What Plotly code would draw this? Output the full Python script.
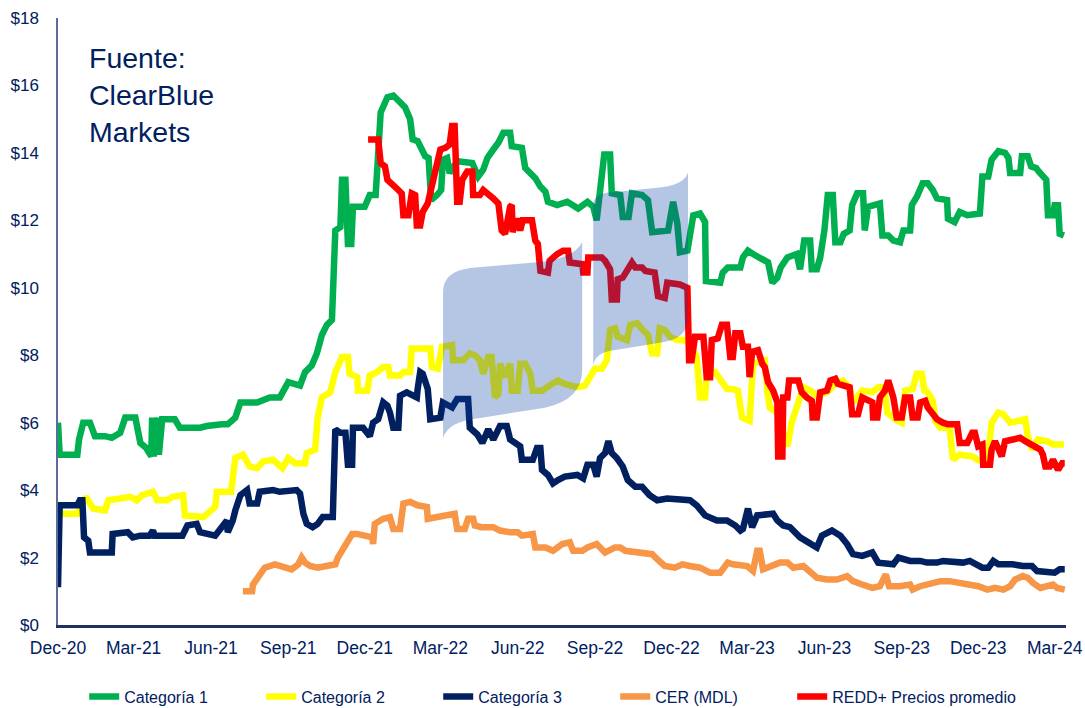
import pandas as pd
import plotly.graph_objects as go

# x values: elapsed days since 2020-12-01 (weekly-ish price series)
START = "2020-12-01"

cat1_days = [0, 2, 23, 25, 30, 38, 44, 56, 64, 74, 80, 92, 98, 105, 111, 112, 114, 118, 120, 124, 139, 145, 169, 177,
             195, 202, 211, 217, 237, 252, 264, 274, 288, 294, 302, 308, 314, 320, 326, 330, 336, 338, 342, 345, 349,
             351, 365, 371, 378, 381, 384, 392, 399, 407, 413, 419, 422, 428, 433, 437, 441, 444, 451, 456, 458, 463,
             466, 475, 493, 500, 506, 511, 518, 524, 530, 538, 540, 552, 556, 562, 568, 574, 580, 583, 594, 606, 619,
             630, 637, 641, 645, 650, 657, 659, 669, 672, 679, 683, 695, 702, 707, 720, 726, 732, 737, 740, 749, 756,
             764, 770, 771, 788, 791, 797, 812, 815, 821, 827, 833, 845, 850, 856, 860, 868, 879, 883, 888, 895, 897,
             903, 907, 912, 916, 922, 925, 931, 935, 942, 945, 951, 958, 960, 964, 978, 981, 988, 994, 1002, 1006,
             1014, 1016, 1022, 1029, 1035, 1041, 1046, 1058, 1059, 1067, 1073, 1082, 1097, 1100, 1107, 1111, 1119,
             1127, 1131, 1133, 1145, 1147, 1154, 1158, 1164, 1167, 1172, 1176, 1178, 1184, 1186, 1190, 1192, 1197]
cat1_vals = [6.0, 5.05, 5.05, 5.5, 6.0, 6.0, 5.6, 5.6, 5.55, 5.7, 6.15, 6.15, 5.4, 5.25, 5.0, 6.15, 5.0, 6.15, 5.05, 6.1,
             6.1, 5.85, 5.85, 5.9, 5.95, 5.95, 6.15, 6.6, 6.6, 6.75, 6.75, 7.2, 7.1, 7.5, 7.7, 8.05, 8.6, 8.9, 9.05,
             11.7, 11.8, 13.2, 13.2, 11.3, 11.3, 12.4, 12.4, 12.75, 12.75, 14.4, 15.2, 15.65, 15.7, 15.5, 15.35, 15.0,
             14.4, 14.35, 14.15, 13.9, 13.85, 12.6, 12.75, 12.9, 13.8, 13.85, 13.4, 13.75, 13.7, 13.3, 13.5, 13.85,
             14.1, 14.3, 14.6, 14.6, 14.2, 14.15, 13.55, 13.4, 13.25, 13.0, 12.85, 12.55, 12.45, 12.55, 12.35, 12.55,
             12.4, 12.0, 12.9, 13.95, 13.95, 12.8, 12.75, 12.1, 12.1, 12.8, 12.75, 12.6, 11.65, 11.7, 11.7, 12.55,
             11.9, 11.05, 11.1, 12.15, 12.2, 11.95, 10.2, 10.15, 10.45, 10.6, 10.6, 10.9, 11.1, 11.0, 10.9, 10.75,
             10.15, 10.3, 10.6, 10.9, 11.0, 10.55, 11.4, 11.4, 10.55, 10.55, 10.9, 11.7, 12.75, 12.75, 11.35, 11.35,
             11.6, 11.7, 12.45, 12.8, 12.8, 11.7, 12.4, 12.5, 11.55, 11.55, 11.4, 11.35, 11.7, 11.7, 12.45, 12.7,
             13.1, 13.1, 12.9, 12.65, 12.6, 12.05, 11.95, 12.25, 12.15, 12.2, 13.3, 13.3, 13.8, 14.05, 14.0, 13.85,
             13.4, 13.4, 13.9, 13.9, 13.6, 13.55, 13.45, 13.3, 13.2, 12.15, 12.15, 12.45, 12.45, 11.6, 11.55]

cat2_days = [0, 23, 33, 42, 56, 60, 74, 86, 94, 100, 113, 118, 130, 136, 149, 151, 173, 179, 187, 189, 206, 211, 220,
             228, 237, 244, 256, 267, 274, 282, 294, 296, 306, 309, 314, 324, 330, 338, 345, 347, 356, 357, 368, 371,
             380, 387, 393, 395, 407, 411, 419, 421, 443, 445, 452, 457, 469, 470, 482, 490, 496, 502, 506, 512, 516,
             520, 524, 526, 532, 538, 540, 547, 550, 556, 562, 565, 576, 585, 595, 603, 618, 627, 633, 639, 647, 653,
             657, 663, 666, 677, 681, 689, 696, 702, 707, 713, 716, 722, 728, 737, 744, 752, 760, 764, 770, 772, 782,
             788, 796, 802, 809, 814, 823, 827, 841, 844, 847, 856, 863, 868, 873, 877, 883, 887, 895, 903, 915, 925,
             934, 942, 946, 957, 969, 976, 983, 987, 996, 1004, 1008, 1017, 1022, 1028, 1031, 1035, 1041, 1044, 1050,
             1061, 1065, 1073, 1088, 1094, 1106, 1111, 1119, 1125, 1133, 1151, 1154, 1159, 1166, 1177, 1184, 1197]
cat2_vals = [3.3, 3.3, 3.8, 3.45, 3.4, 3.7, 3.75, 3.8, 3.7, 3.85, 3.95, 3.7, 3.7, 3.8, 3.85, 3.25, 3.2, 3.35, 3.5,
             3.95, 3.95, 4.95, 5.05, 4.7, 4.65, 4.85, 4.9, 4.65, 4.95, 4.8, 4.8, 5.1, 5.2, 6.15, 6.75, 6.9, 7.5, 7.95,
             7.95, 7.45, 7.35, 6.95, 6.95, 7.4, 7.5, 7.65, 7.65, 7.4, 7.4, 7.5, 7.5, 8.2, 8.2, 7.65, 7.6, 8.25, 8.3,
             7.85, 7.85, 8.05, 8.0, 7.85, 7.45, 7.95, 7.95, 6.75, 6.85, 7.75, 7.35, 7.75, 6.95, 6.95, 7.75, 7.75,
             7.45, 6.95, 6.95, 7.1, 7.25, 7.15, 7.05, 7.1, 7.35, 7.6, 7.6, 7.85, 8.75, 8.8, 8.55, 8.45, 8.9, 8.95,
             8.75, 8.6, 8.05, 8.05, 8.8, 8.75, 8.55, 8.45, 8.45, 8.35, 7.95, 6.75, 6.75, 7.45, 7.5, 7.25, 7.0, 7.0,
             6.95, 6.15, 6.05, 7.75, 7.85, 6.95, 6.45, 6.3, 5.7, 5.3, 6.0, 6.3, 6.65, 7.05, 6.95, 6.8, 6.9, 7.15,
             7.25, 7.05, 6.6, 6.95, 6.9, 7.05, 7.05, 6.3, 6.1, 6.0, 6.95, 7.0, 7.45, 7.45, 6.95, 6.9, 6.65, 6.05,
             5.85, 5.85, 4.9, 5.05, 5.0, 4.9, 4.8, 6.0, 6.3, 6.25, 6.0, 6.1, 5.6, 5.2, 5.5, 5.45, 5.35, 5.35]

cat3_days = [0, 2, 23, 26, 29, 31, 36, 38, 64, 65, 83, 89, 98, 109, 113, 115, 148, 154, 165, 169, 187, 195, 201, 202,
             208, 211, 217, 225, 228, 237, 240, 256, 264, 284, 288, 292, 296, 303, 309, 315, 327, 330, 336, 342, 345,
             350, 351, 363, 368, 371, 375, 381, 387, 392, 395, 399, 405, 407, 415, 427, 428, 431, 434, 440, 443, 455,
             458, 469, 475, 488, 490, 499, 505, 512, 518, 526, 534, 538, 550, 552, 565, 570, 574, 576, 583, 589, 595,
             603, 618, 625, 630, 637, 641, 645, 651, 655, 659, 665, 672, 678, 687, 695, 704, 713, 725, 752, 760, 770,
             784, 796, 806, 812, 815, 821, 826, 832, 851, 856, 863, 871, 883, 895, 903, 909, 921, 931, 939, 946, 957,
             969, 976, 994, 1000, 1014, 1026, 1034, 1046, 1053, 1077, 1085, 1094, 1100, 1107, 1113, 1119, 1136, 1148,
             1159, 1165, 1186, 1192, 1198]
cat3_vals = [1.12, 3.55, 3.55, 3.7, 3.7, 2.6, 2.5, 2.15, 2.15, 2.7, 2.75, 2.6, 2.65, 2.65, 2.8, 2.65, 2.65, 2.95, 3.0,
             2.75, 2.65, 2.9, 3.1, 2.75, 3.1, 3.4, 3.85, 4.0, 3.6, 3.6, 3.95, 4.0, 3.95, 4.0, 3.9, 3.3, 3.0, 2.9, 3.0,
             3.2, 3.2, 5.8, 5.7, 5.7, 4.75, 4.75, 5.85, 5.85, 5.65, 5.6, 6.0, 6.1, 6.6, 6.5, 6.3, 5.85, 5.85, 6.8,
             6.9, 6.75, 7.0, 7.5, 7.45, 7.0, 6.1, 6.15, 6.6, 6.45, 6.7, 6.7, 5.85, 5.65, 5.4, 5.8, 5.5, 5.9, 5.9, 5.5,
             5.3, 4.9, 4.9, 5.25, 5.25, 4.6, 4.45, 4.2, 4.3, 4.4, 4.45, 4.35, 4.75, 4.75, 4.4, 4.95, 5.1, 5.45, 5.1,
             4.95, 4.7, 4.3, 4.1, 4.1, 3.85, 3.7, 3.75, 3.7, 3.55, 3.25, 3.1, 3.1, 2.95, 2.8, 2.85, 3.45, 2.9, 3.25,
             3.3, 3.1, 2.95, 2.9, 2.6, 2.4, 2.3, 2.65, 2.8, 2.65, 2.4, 2.1, 2.05, 2.15, 1.85, 1.8, 2.0, 1.9, 1.9,
             1.85, 1.85, 1.9, 1.85, 1.9, 1.8, 1.7, 1.7, 1.9, 1.8, 1.8, 1.75, 1.75, 1.6, 1.55, 1.65, 1.65]

cer_days = [220, 231, 232, 238, 246, 258, 270, 278, 286, 290, 294, 300, 309, 324, 330, 333, 338, 344, 350, 356, 363,
            374, 375, 377, 387, 395, 399, 407, 411, 419, 428, 439, 440, 455, 463, 472, 475, 484, 488, 494, 496, 504,
            518, 526, 538, 547, 552, 565, 568, 580, 589, 600, 609, 613, 624, 630, 641, 645, 651, 663, 669, 675, 687,
            696, 707, 713, 722, 734, 743, 752, 764, 776, 788, 797, 803, 820, 827, 832, 835, 839, 851, 859, 868, 875,
            887, 895, 903, 915, 927, 939, 946, 957, 969, 978, 985, 989, 1002, 1014, 1017, 1026, 1038, 1050, 1061,
            1073, 1085, 1095, 1106, 1115, 1125, 1133, 1139, 1148, 1154, 1160, 1169, 1177, 1184, 1189, 1198]
cer_vals = [1.0, 1.0, 1.2, 1.45, 1.7, 1.8, 1.7, 1.65, 1.8, 2.0, 1.85, 1.75, 1.7, 1.75, 1.8, 2.0, 2.2, 2.5, 2.7, 2.7,
            2.65, 2.6, 2.4, 3.0, 3.15, 3.2, 2.85, 2.85, 3.6, 3.65, 3.55, 3.5, 3.15, 3.2, 3.25, 3.3, 2.85, 2.85, 3.15,
            3.15, 2.95, 2.9, 2.9, 2.8, 2.75, 2.75, 2.65, 2.7, 2.3, 2.3, 2.2, 2.4, 2.45, 2.2, 2.2, 2.3, 2.4, 2.3, 2.15,
            2.3, 2.3, 2.2, 2.15, 2.1, 2.1, 1.95, 1.75, 1.7, 1.8, 1.75, 1.7, 1.55, 1.55, 1.85, 1.8, 1.75, 1.6, 2.2,
            2.2, 1.65, 1.75, 1.85, 1.85, 1.7, 1.75, 1.6, 1.4, 1.35, 1.35, 1.45, 1.3, 1.2, 1.1, 1.15, 1.5, 1.15, 1.15,
            1.2, 1.05, 1.15, 1.25, 1.3, 1.3, 1.25, 1.2, 1.15, 1.05, 1.1, 1.05, 1.15, 1.35, 1.45, 1.4, 1.25, 1.1, 1.15,
            1.2, 1.1, 1.05]

redd_days = [369, 381, 384, 389, 392, 399, 405, 409, 411, 417, 421, 425, 427, 431, 434, 440, 445, 455, 461, 466, 469,
             472, 475, 478, 481, 487, 493, 494, 502, 506, 518, 524, 528, 532, 538, 540, 541, 546, 550, 553, 564, 568,
             571, 574, 583, 585, 594, 601, 607, 609, 624, 625, 630, 631, 647, 651, 657, 659, 665, 666, 672, 678, 683,
             687, 695, 699, 710, 714, 722, 725, 740, 749, 751, 754, 758, 768, 772, 776, 778, 785, 790, 796, 800, 803,
             806, 812, 815, 821, 823, 826, 833, 838, 841, 845, 851, 856, 857, 862, 863, 868, 870, 881, 885, 891, 897,
             898, 903, 907, 915, 919, 925, 928, 934, 942, 945, 952, 957, 969, 970, 975, 978, 984, 988, 994, 998, 1004,
             1008, 1014, 1017, 1023, 1026, 1032, 1035, 1040, 1046, 1053, 1059, 1070, 1073, 1082, 1088, 1091, 1095,
             1100, 1101, 1109, 1111, 1115, 1119, 1123, 1127, 1136, 1145, 1151, 1157, 1163, 1169, 1172, 1175, 1180,
             1184, 1190, 1195, 1198]
redd_vals = [14.4, 14.4, 13.7, 13.6, 13.2, 13.0, 12.9, 12.8, 12.15, 12.15, 12.8, 12.75, 11.85, 11.85, 12.25, 12.5,
             13.0, 14.1, 14.15, 14.25, 14.8, 14.8, 12.55, 12.55, 13.2, 13.45, 13.45, 12.75, 12.75, 12.9, 12.65, 12.5,
             11.7, 11.6, 12.4, 12.45, 11.65, 12.05, 11.7, 12.0, 12.0, 11.4, 11.3, 10.5, 10.45, 10.8, 11.0, 11.1, 11.1,
             10.75, 10.7, 10.45, 10.45, 10.9, 10.9, 10.8, 10.55, 9.65, 9.65, 10.25, 10.3, 10.6, 10.75, 10.6, 10.6,
             10.5, 10.45, 9.75, 9.7, 10.15, 10.1, 10.0, 7.85, 7.85, 8.55, 8.55, 7.35, 7.35, 8.45, 8.5, 8.9, 8.9, 7.95,
             7.95, 8.65, 8.65, 8.25, 8.25, 7.35, 8.1, 8.15, 7.75, 7.65, 7.2, 6.95, 6.6, 5.0, 5.0, 6.75, 6.75, 7.25,
             7.25, 6.9, 6.75, 6.65, 6.15, 6.15, 6.9, 6.95, 7.25, 7.3, 7.15, 7.1, 7.05, 6.25, 6.25, 6.75, 6.6, 6.15,
             6.15, 6.75, 6.95, 7.25, 6.75, 6.15, 6.15, 6.75, 6.75, 6.15, 6.15, 6.6, 6.65, 6.45, 6.3, 6.1, 6.0, 5.95,
             5.95, 5.4, 5.4, 5.7, 5.7, 5.3, 5.35, 4.75, 4.75, 5.2, 5.45, 5.2, 5.0, 5.45, 5.5, 5.55, 5.45, 5.35, 5.3,
             5.2, 5.05, 4.7, 4.7, 4.9, 4.6, 4.8, 4.8]

series = [
    ("Categoría 1", cat1_days, cat1_vals, "#00B050", 132),
    ("Categoría 2", cat2_days, cat2_vals, "#FFFF00", 132),
    ("Categoría 3", cat3_days, cat3_vals, "#002060", 132),
    ("CER (MDL)", cer_days, cer_vals, "#F79646", 132),
    ("REDD+ Precios promedio", redd_days, redd_vals, "#FF0000", 225),
]

NAVY = "#002060"
fig = go.Figure()
for name, days, vals, color, lw in series:
    dates = pd.Timestamp(START) + pd.to_timedelta(days, unit="D")
    fig.add_trace(go.Scatter(x=dates, y=vals, name=name, mode="lines", legendwidth=lw,
                             line=dict(color=color, width=6.5)))

# ClearBlue logo watermark (decoration, paper coordinates)
logo_left = ("M 0.382,0.308 L 0.382,0.549 Q 0.382,0.582 0.409,0.588 L 0.478,0.598 "
             "Q 0.513,0.605 0.520,0.631 L 0.520,0.420 Q 0.520,0.371 0.483,0.358 "
             "L 0.419,0.341 Q 0.387,0.336 0.382,0.308 Z")
logo_right = ("M 0.531,0.428 L 0.531,0.692 Q 0.531,0.712 0.550,0.713 L 0.592,0.720 "
              "Q 0.622,0.724 0.625,0.746 L 0.625,0.506 Q 0.625,0.470 0.597,0.465 "
              "L 0.553,0.453 Q 0.533,0.450 0.531,0.428 Z")
for p in (logo_left, logo_right):
    fig.add_shape(type="path", path=p, xref="paper", yref="paper",
                  fillcolor="rgb(10,62,165)", opacity=0.3, line=dict(width=0), layer="above")

fig.add_annotation(text="Fuente:<br>ClearBlue<br>Markets", xref="paper", yref="paper",
                   x=0.029, y=0.964, xanchor="left", yanchor="top", align="left", showarrow=False,
                   font=dict(family="Liberation Sans, Arial, sans-serif", size=28.5, color=NAVY))

fig.update_layout(
    width=1085, height=708,
    margin=dict(l=58, r=19, t=18, b=83, autoexpand=False),
    paper_bgcolor="white", plot_bgcolor="white",
    font=dict(family="Liberation Sans, Arial, sans-serif", size=17, color=NAVY),
    showlegend=True,
    legend=dict(orientation="h", x=0.026, xanchor="left", y=-0.118, yanchor="middle",
                font=dict(size=16, color=NAVY), traceorder="normal", itemwidth=30),
    xaxis=dict(type="date", range=["2020-12-01", "2024-03-14 12:00"], tick0="2020-12-01", dtick="M3",
               tickformat="%b-%y", showgrid=False, zeroline=False, showline=True, automargin=False,
               linecolor="#1F3264", linewidth=2.5, ticks="", ticklabelstandoff=5,
               tickfont=dict(size=17.5, color=NAVY)),
    yaxis=dict(range=[0, 18], dtick=2, tickprefix="$", showgrid=False, zeroline=False, automargin=False,
               showline=True, linecolor="#5A6E99", linewidth=1.5, ticks="", ticklabelstandoff=14,
               tickfont=dict(size=17, color=NAVY)),
)

fig.write_html("out.html", config={"displayModeBar": False},
               post_script="document.body.style.margin='0';document.body.style.overflow='hidden';")
